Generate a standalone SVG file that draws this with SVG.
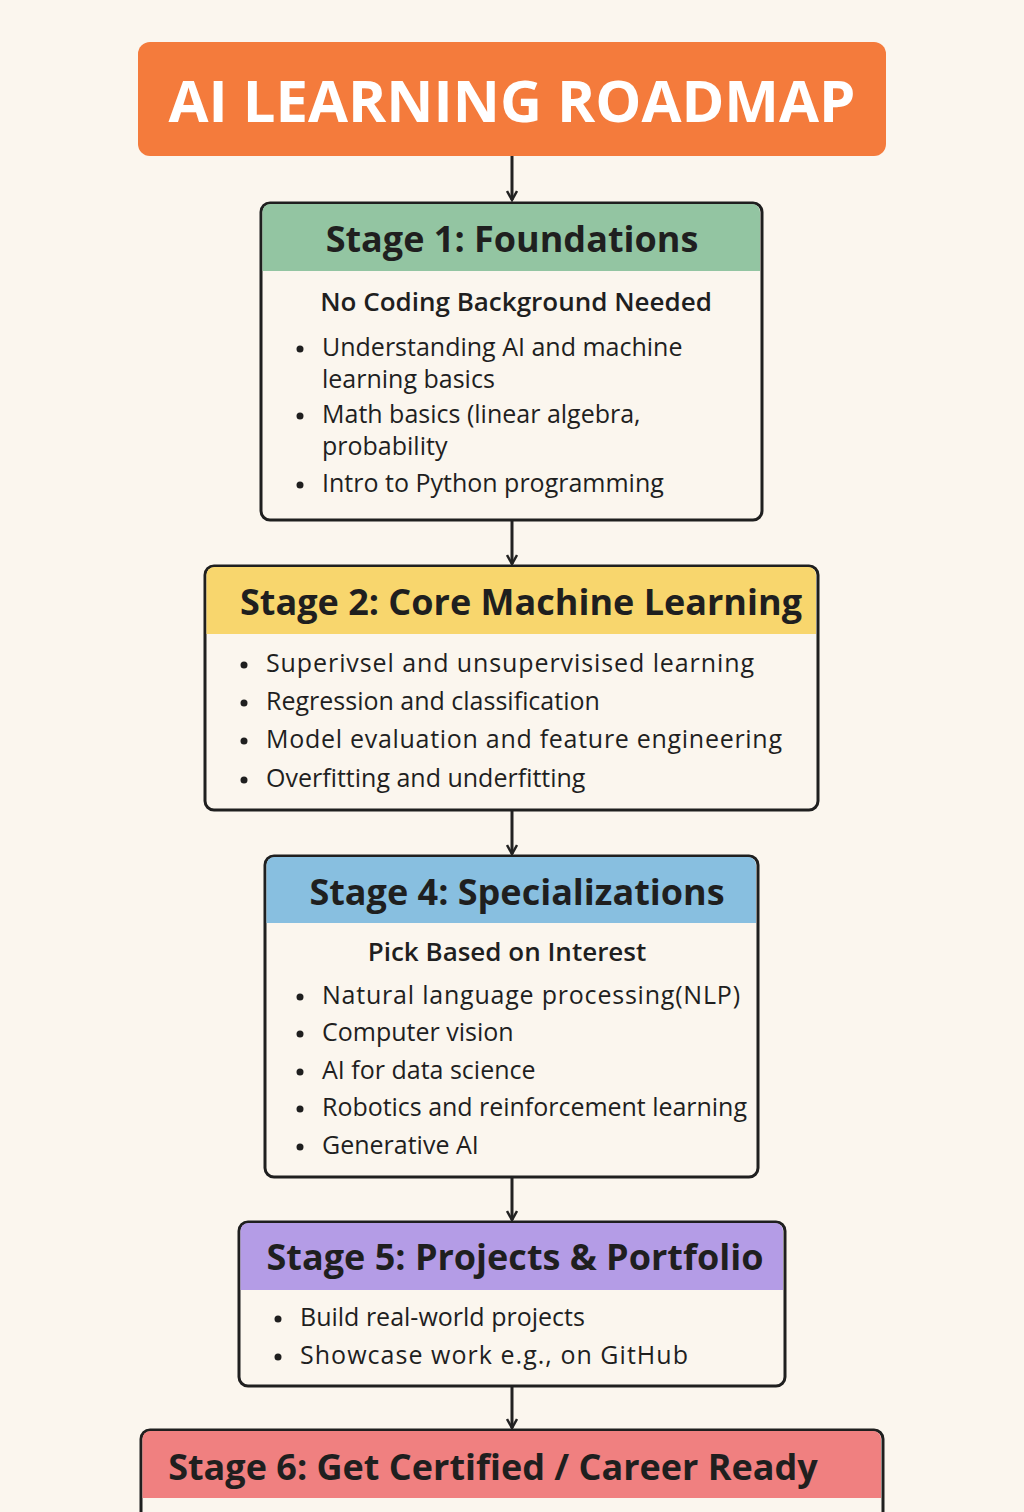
<svg xmlns="http://www.w3.org/2000/svg" width="1024" height="1512" viewBox="0 0 1024 1512">
<defs>
<style>
.box{fill:#FBF6EE;stroke:#1f1f1f;stroke-width:3}
.t{font-family:"Open Sans","Noto Sans",sans-serif;fill:#1f1f1f}
.h{font-size:36px;font-weight:700}
.s{font-size:26px;font-weight:600}
.b{font-size:25px}
.c{stroke:#222;stroke-width:3;fill:none}
.d{fill:#1f1f1f}
</style>
<marker id="ah" viewBox="0 0 12 12" refX="10" refY="6" markerWidth="12" markerHeight="12" markerUnits="userSpaceOnUse" orient="auto"><path d="M1,1 L10,6 L1,11" fill="none" stroke="#222" stroke-width="2.5"/></marker>
</defs>
<rect width="1024" height="1512" fill="#FBF6EE"/>
<g id="title"><rect x="138" y="42" width="748" height="114" rx="12" fill="#F47B3C"/>
<text x="512" y="122" text-anchor="middle" font-family="Open Sans,sans-serif" font-size="58" font-weight="700" fill="#fff">AI LEARNING ROADMAP</text></g>
<g id="connectors">
<line class="c" x1="512" y1="156" x2="512" y2="200" marker-end="url(#ah)"/>
<line class="c" x1="512" y1="521" x2="512" y2="564" marker-end="url(#ah)"/>
<line class="c" x1="512" y1="811" x2="512" y2="854" marker-end="url(#ah)"/>
<line class="c" x1="512" y1="1178" x2="512" y2="1220" marker-end="url(#ah)"/>
<line class="c" x1="512" y1="1387" x2="512" y2="1428" marker-end="url(#ah)"/>
</g>
<g id="stage1">
<rect class="box" x="261" y="203" width="501" height="317" rx="9"/>
<path d="M262.5,271 V212 a8,8 0 0 1 8,-8 H752 a8,8 0 0 1 8,8 V271 Z" fill="#93C5A2"/>
<text class="t h" x="512" y="252" text-anchor="middle">Stage 1: Foundations</text>
<text class="t s" x="516" y="311" text-anchor="middle">No Coding Background Needed</text>
<circle class="d" cx="300" cy="349" r="3.5"/><circle class="d" cx="300" cy="416" r="3.5"/><circle class="d" cx="300" cy="485" r="3.5"/>
<g class="t b"><text x="322" y="356">Understanding AI and machine</text><text x="322" y="388">learning basics</text>
<text x="322" y="423">Math basics (linear algebra,</text><text x="322" y="455">probability</text>
<text x="322" y="492">Intro to Python programming</text></g>
</g>
<g id="stage2">
<rect class="box" x="205" y="566" width="613" height="244" rx="9"/>
<path d="M206.5,634 V575 a8,8 0 0 1 8,-8 H808 a8,8 0 0 1 8,8 V634 Z" fill="#F8D66D"/>
<text class="t h" x="521" y="615" text-anchor="middle">Stage 2: Core Machine Learning</text>
<circle class="d" cx="244" cy="665" r="3.5"/><circle class="d" cx="244" cy="703" r="3.5"/><circle class="d" cx="244" cy="741" r="3.5"/><circle class="d" cx="244" cy="780" r="3.5"/>
<g class="t b"><text x="266" y="672" textLength="488">Superivsel and unsupervisised learning</text>
<text x="266" y="710">Regression and classification</text>
<text x="266" y="748" textLength="516">Model evaluation and feature engineering</text>
<text x="266" y="787">Overfitting and underfitting</text></g>
</g>
<g id="stage4">
<rect class="box" x="265" y="856" width="493" height="321" rx="9"/>
<path d="M266.5,923 V865 a8,8 0 0 1 8,-8 H748 a8,8 0 0 1 8,8 V923 Z" fill="#88BFE0"/>
<text class="t h" x="517" y="905" text-anchor="middle">Stage 4: Specializations</text>
<text class="t s" x="507" y="961" text-anchor="middle">Pick Based on Interest</text>
<circle class="d" cx="300" cy="997" r="3.5"/><circle class="d" cx="300" cy="1034" r="3.5"/><circle class="d" cx="300" cy="1072" r="3.5"/><circle class="d" cx="300" cy="1109" r="3.5"/><circle class="d" cx="300" cy="1147" r="3.5"/>
<g class="t b"><text x="322" y="1004" textLength="418">Natural language processing(NLP)</text>
<text x="322" y="1041">Computer vision</text>
<text x="322" y="1079">AI for data science</text>
<text x="322" y="1116" textLength="425">Robotics and reinforcement learning</text>
<text x="322" y="1154">Generative AI</text></g>
</g>
<g id="stage5">
<rect class="box" x="239" y="1222" width="546" height="164" rx="9"/>
<path d="M240.5,1290 V1231 a8,8 0 0 1 8,-8 H775 a8,8 0 0 1 8,8 V1290 Z" fill="#B49CE6"/>
<text class="t h" x="515" y="1270" text-anchor="middle">Stage 5: Projects &amp; Portfolio</text>
<circle class="d" cx="278" cy="1319" r="3.5"/><circle class="d" cx="278" cy="1357" r="3.5"/>
<g class="t b"><text x="300" y="1326">Build real-world projects</text>
<text x="300" y="1364" textLength="388">Showcase work e.g., on GitHub</text></g>
</g>
<g id="stage6">
<rect class="box" x="141" y="1430" width="742" height="110" rx="9"/>
<path d="M142.5,1498 V1439 a8,8 0 0 1 8,-8 H873 a8,8 0 0 1 8,8 V1498 Z" fill="#F08080"/>
<text class="t h" x="493" y="1480" text-anchor="middle">Stage 6: Get Certified / Career Ready</text>
</g>
</svg>
